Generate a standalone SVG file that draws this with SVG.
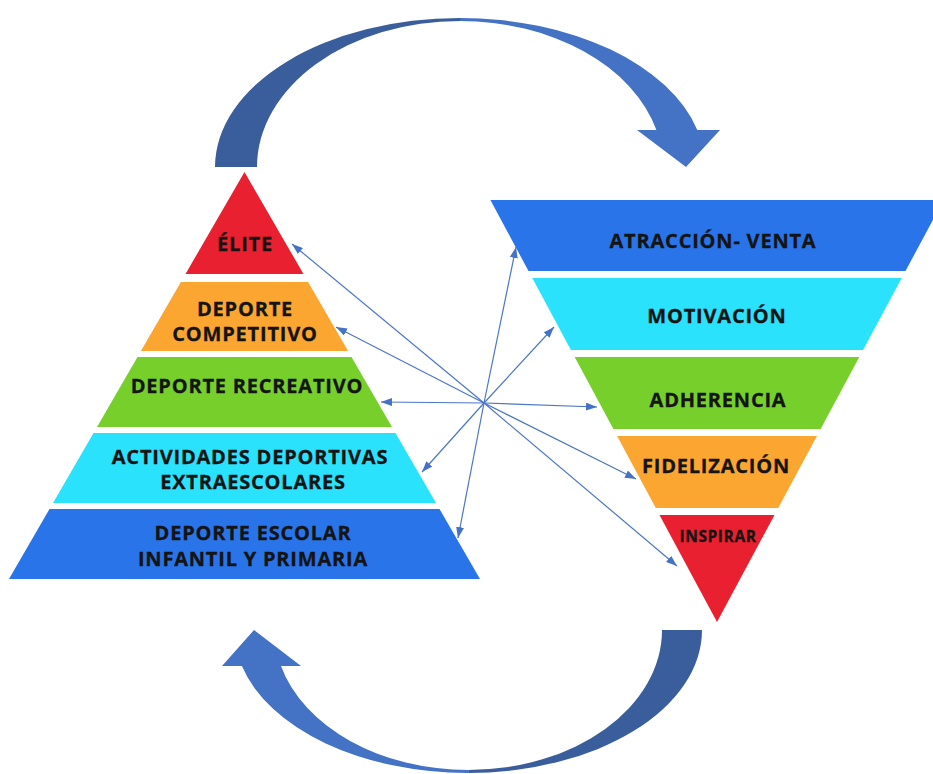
<svg xmlns="http://www.w3.org/2000/svg" width="933" height="774" viewBox="0 0 933 774">
<defs>
<style>
.lbl{font-family:"Open Sans","Liberation Sans",sans-serif;font-weight:700;font-size:20px;letter-spacing:0.8px;fill:#141414;stroke:#141414;stroke-width:0.3px;text-anchor:middle}
.sm{font-size:15.5px;letter-spacing:0.6px}
.con{stroke:#4A76C6;stroke-width:1.2;fill:none;marker-end:url(#ah)}
.dark{fill:#3A5E9C}
.light{fill:#4472C4}
.blue{fill:#2874E8}
.cyan{fill:#2BE2FD}
.green{fill:#76CF2A}
.orange{fill:#FBA630}
.red{fill:#E8202F}
</style>
<marker id="ah" markerUnits="userSpaceOnUse" markerWidth="11" markerHeight="8" refX="11" refY="4" orient="auto">
<path d="M0,0 L11,4 L0,8 Z" fill="#4472C4"/>
</marker>
</defs>
<rect width="933" height="774" fill="#FFFFFF"/>

<g id="cycle-arrows">
<path class="dark" d="M215,167 A245,149 0 0 1 460,18 L460,21 A203,146 0 0 0 257,167 Z"/>
<path class="light" d="M460,18 A245,149 0 0 1 697.3,130 L720,130 L686,167 L637,130 L656.4,130 A203,146 0 0 0 460,21 Z"/>
<path class="dark" d="M702,630 A233.8,143 0 0 1 468.2,773 L468.2,770 A193.8,140 0 0 0 662,630 Z"/>
<path class="light" d="M468.2,773 A233.8,143 0 0 1 241.9,666 L222,666 L254,630 L301,666 L281,666 A193.8,140 0 0 0 468.2,770 Z"/>
</g>

<g id="elite">
<polygon class="red" points="244.5,172 303.5,274 185.5,274"/>
<text class="lbl" x="245" y="251">ÉLITE</text>
</g>
<g id="deporte-competitivo">
<polygon class="orange" points="180.9,282 308.1,282 348.1,351 140.9,351"/>
<text class="lbl" x="245" y="316">DEPORTE</text>
<text class="lbl" x="245" y="341">COMPETITIVO</text>
</g>
<g id="deporte-recreativo">
<polygon class="green" points="137.5,357 351.5,357 392,427 97,427"/>
<text class="lbl" x="247" y="393">DEPORTE RECREATIVO</text>
</g>
<g id="actividades-extraescolares">
<polygon class="cyan" points="93.5,433 395.5,433 436,503 53,503"/>
<text class="lbl" x="250" y="464">ACTIVIDADES DEPORTIVAS</text>
<text class="lbl" x="253" y="489">EXTRAESCOLARES</text>
</g>
<g id="deporte-escolar">
<polygon class="blue" points="49.5,509 439.5,509 480,579 9,579"/>
<text class="lbl" x="253" y="540">DEPORTE ESCOLAR</text>
<text class="lbl" x="253" y="566">INFANTIL Y PRIMARIA</text>
</g>

<g id="atraccion-venta">
<polygon class="blue" points="490.4,200 943.6,200 905.5,271 528.5,271"/>
<text class="lbl" x="713" y="248">ATRACCIÓN- VENTA</text>
</g>
<g id="motivacion">
<polygon class="cyan" points="532.3,278 901.7,278 863.1,350 570.9,350"/>
<text class="lbl" x="717" y="323">MOTIVACIÓN</text>
</g>
<g id="adherencia">
<polygon class="green" points="574.7,357 859.3,357 820.6,429 613.4,429"/>
<text class="lbl" x="718" y="407">ADHERENCIA</text>
</g>
<g id="fidelizacion">
<polygon class="orange" points="617.1,436 816.9,436 778.2,508 655.8,508"/>
<text class="lbl" x="716" y="473">FIDELIZACIÓN</text>
</g>
<g id="inspirar">
<polygon class="red" points="659.5,515 774.5,515 717,622"/>
<text class="lbl sm" x="718" y="542">INSPIRAR</text>
</g>

<g id="connectors">
<line class="con" x1="484" y1="403" x2="292" y2="244"/>
<line class="con" x1="484" y1="403" x2="336" y2="327"/>
<line class="con" x1="484" y1="403" x2="381" y2="402"/>
<line class="con" x1="484" y1="403" x2="422" y2="472"/>
<line class="con" x1="484" y1="403" x2="458" y2="538"/>
<line class="con" x1="484" y1="403" x2="516" y2="247"/>
<line class="con" x1="484" y1="403" x2="554" y2="327"/>
<line class="con" x1="484" y1="403" x2="597" y2="407"/>
<line class="con" x1="484" y1="403" x2="636" y2="479"/>
<line class="con" x1="484" y1="403" x2="677" y2="566"/>
</g>
</svg>
